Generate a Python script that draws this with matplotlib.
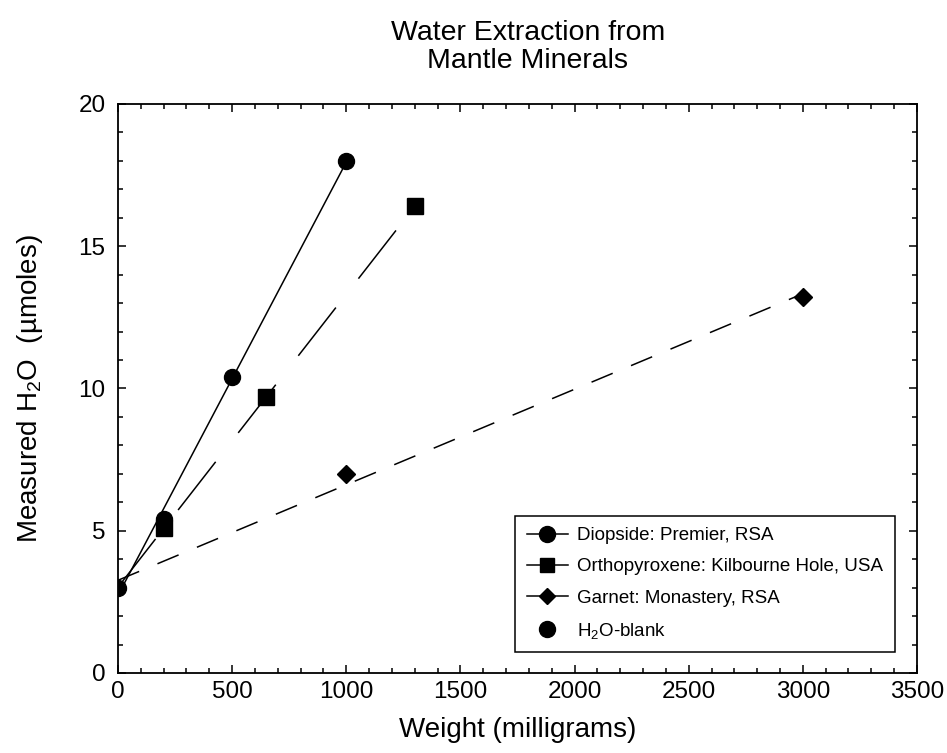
#!/usr/bin/env python3

import matplotlib
matplotlib.use("Agg")
import matplotlib.pyplot as plt
from matplotlib.lines import Line2D
import numpy as np


# values
blank_x = [0]
blank_y = [3.0]

diopside_x = [200, 500, 1000]
diopside_y = [5.4, 10.4, 18.0]

opx_x = [200, 650, 1300]
opx_y = [5.1, 9.7, 16.4]

garnet_x = [1000, 3000]
garnet_y = [7.0, 13.2]

labels = ["Diopside: Premier, RSA",
          "Orthopyroxene: Kilbourne Hole, USA",
          "Garnet: Monastery, RSA",
          "H$_2$O-blank"]


def fit_line(xs, ys):
    """Least-squares line through blank + sample points, drawn from 0 to last x."""
    x = np.array(blank_x + xs, dtype=float)
    y = np.array(blank_y + ys, dtype=float)
    slope, icept = np.polyfit(x, y, 1)
    xx = np.array([x.min(), x.max()])
    return xx, slope * xx + icept


def main():
    plt.rcParams["font.family"] = ["Liberation Sans", "DejaVu Sans"]
    plt.rcParams["mathtext.default"] = "regular"

    fig = plt.figure(figsize=(9.47, 7.53), dpi=100)
    ax = fig.add_axes([0.1246, 0.1063, 0.8437, 0.7557])

    # fitted lines
    xx, yy = fit_line(diopside_x, diopside_y)
    ax.plot(xx, yy, color="black", lw=1.1, solid_capstyle="butt")
    xx, yy = fit_line(opx_x, opx_y)
    ax.plot(xx, yy, color="black", lw=1.1, dashes=(40, 24))
    xx, yy = fit_line(garnet_x, garnet_y)
    ax.plot(xx, yy, color="black", lw=1.1, dashes=(15, 13))

    # markers
    ax.plot(diopside_x, diopside_y, "o", color="black", ms=11.5, ls="none")
    ax.plot(opx_x, opx_y, "s", color="black", ms=11.5, ls="none")
    ax.plot(garnet_x, garnet_y, "D", color="black", ms=9, ls="none")
    ax.plot(blank_x, blank_y, "o", color="black", ms=11.5, ls="none")

    ax.set_xlim(0, 3500)
    ax.set_ylim(0, 20)
    ax.set_xticks(np.arange(0, 3501, 500))
    ax.set_yticks(np.arange(0, 21, 5))
    ax.set_xticks(np.arange(0, 3501, 100), minor=True)
    ax.set_yticks(np.arange(0, 21, 1), minor=True)
    ax.tick_params(which="both", direction="in", top=True, right=True,
                   width=1.1, color="black")
    ax.tick_params(which="major", length=6, labelsize=17.5)
    ax.tick_params(which="minor", length=3.5)
    ax.tick_params(axis="x", which="major", pad=6)
    ax.tick_params(axis="y", which="major", pad=9)
    for sp in ax.spines.values():
        sp.set_linewidth(1.3)

    ax.set_xlabel("Weight (milligrams)", fontsize=20, labelpad=10)
    ax.set_ylabel("Measured H$_2$O  (\u00b5moles)", fontsize=20, labelpad=24)
    ax.set_title("Water Extraction from\nMantle Minerals", fontsize=20.5,
                 pad=26, linespacing=1.1, x=0.513)

    handles = [
        Line2D([], [], color="black", lw=1.1, marker="o", ms=11.5),
        Line2D([], [], color="black", lw=1.1, marker="s", ms=10.5),
        Line2D([], [], color="black", lw=1.1, marker="D", ms=8.5),
        Line2D([], [], color="black", lw=0, marker="o", ms=11.5),
    ]
    leg = ax.legend(handles, labels, loc="lower right",
                    bbox_to_anchor=(0.972, 0.037), borderaxespad=0,
                    fancybox=False, edgecolor="black", framealpha=1,
                    fontsize=13.5, handlelength=2.2, handletextpad=0.5,
                    labelspacing=0.75, borderpad=0.6)
    leg.get_frame().set_linewidth(1.1)

    fig.savefig("out.png", dpi=100)
    return 0


if __name__ == "__main__":
    main()
